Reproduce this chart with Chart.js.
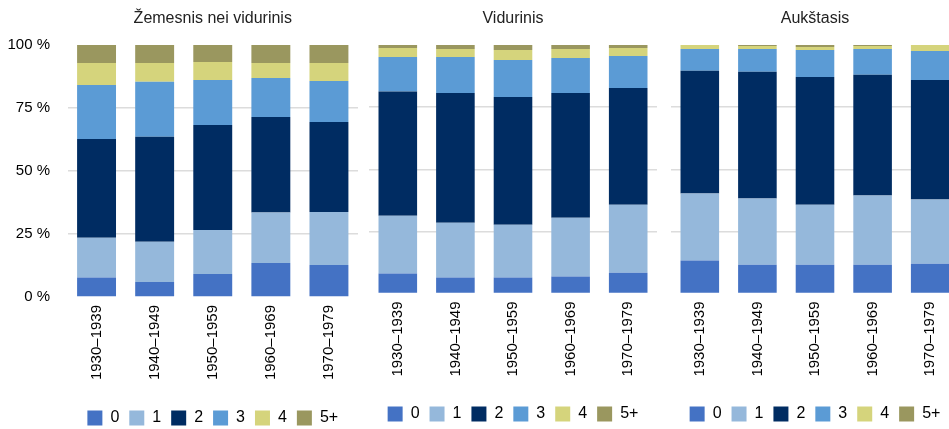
<!DOCTYPE html>
<html>
<head>
<meta charset="utf-8">
<script src="https://cdn.jsdelivr.net/npm/chart.js@4/dist/chart.umd.min.js"></script>
<style>
  html, body { margin: 0; padding: 0; background: #fff; overflow: hidden; width: 949px; height: 429px; }
  canvas { position: absolute; top: 0; }
</style>
</head>
<body>
<canvas id="c1" width="358" height="436" style="left:0px"></canvas>
<canvas id="c2" width="288" height="432" style="left:369px"></canvas>
<canvas id="c3" width="288" height="432" style="left:671px"></canvas>
<script>
// Categories and series labels
const categories = ['1930–1939', '1940–1949', '1950–1959', '1960–1969', '1970–1979'];
const seriesNames = ['0', '1', '2', '3', '4', '5+'];
const panelTitles = ['Žemesnis nei vidurinis', 'Vidurinis', 'Aukštasis'];
const yTickValues = [0, 25, 50, 75, 100];

// Žemesnis nei vidurinis (%)
const low_0  = [7.7, 6.0, 9.1, 13.5, 12.7];
const low_1  = [15.8, 15.9, 17.5, 20.0, 21.0];
const low_2  = [39.2, 41.7, 41.7, 37.9, 35.7];
const low_3  = [21.4, 21.8, 17.8, 15.5, 16.3];
const low_4  = [8.8, 7.5, 7.2, 6.0, 7.2];
const low_5p = [7.1, 7.1, 6.7, 7.1, 7.1];

// Vidurinis (%)
const mid_0  = [8.0, 6.4, 6.4, 6.8, 8.4];
const mid_1  = [23.3, 22.1, 21.3, 23.7, 27.3];
const mid_2  = [50.0, 52.2, 51.4, 50.2, 47.0];
const mid_3  = [13.9, 14.5, 14.9, 14.1, 12.9];
const mid_4  = [3.6, 3.2, 4.0, 3.6, 3.2];
const mid_5p = [1.2, 1.6, 2.0, 1.6, 1.2];

// Aukštasis (%)
const high_0  = [13.3, 11.6, 11.6, 11.6, 12.0];
const high_1  = [26.9, 26.6, 24.1, 27.8, 25.8];
const high_2  = [49.4, 51.0, 51.4, 48.6, 48.1];
const high_3  = [8.8, 9.2, 10.9, 10.4, 11.7];
const high_4  = [1.6, 1.2, 1.2, 1.2, 2.4];
const high_5p = [0.0, 0.4, 0.8, 0.4, 0.0];

const colors = ['#4472C4', '#95B8DB', '#002C62', '#5B9BD5', '#D5D47C', '#9A975F'];
const FONT = "'Liberation Sans', Arial, sans-serif";

function makeChart(id, title, seriesValues, showY, yWidth, xHeight) {
  const datasets = seriesValues.map((vals, i) => ({
    label: seriesNames[i],
    data: vals,
    backgroundColor: colors[i],
    borderWidth: 0,
    barPercentage: 0.67,
    categoryPercentage: 1.0
  }));
  return new Chart(document.getElementById(id), {
    type: 'bar',
    data: { labels: categories, datasets },
    options: {
      responsive: false,
      animation: false,
      devicePixelRatio: 1,
      layout: { padding: 0 },
      plugins: {
        title: {
          display: true,
          text: title,
          fullSize: false,
          color: '#222',
          font: { family: FONT, size: 16, weight: 'normal' },
          padding: { top: 8.5, bottom: 17.3 }
        },
        legend: {
          display: true,
          position: 'bottom',
          fullSize: false,
          labels: {
            boxWidth: 15,
            boxHeight: 15,
            padding: 10,
            color: '#000',
            font: { family: FONT, size: 16 }
          }
        },
        tooltip: { enabled: false }
      },
      scales: {
        x: {
          stacked: true,
          grid: { display: false, drawTicks: false },
          border: { display: false },
          ticks: {
            color: '#000',
            font: { family: FONT, size: 15 },
            maxRotation: 90,
            minRotation: 90,
            padding: 8,
            autoSkip: false
          },
          afterFit: s => { s.height = xHeight; }
        },
        y: {
          stacked: true,
          min: 0,
          max: 100,
          afterBuildTicks: s => { s.ticks = yTickValues.map(v => ({ value: v })); },
          border: { display: false },
          grid: {
            drawTicks: false,
            lineWidth: 1.5,
            color: ctx => (ctx.tick && (ctx.tick.value === 0 || ctx.tick.value === 100)) ? 'rgba(0,0,0,0)' : '#DCDCDC'
          },
          ticks: {
            display: showY,
            color: '#000',
            font: { family: FONT, size: 15 },
            padding: 17.5,
            callback: v => v + ' %'
          },
          afterFit: s => { s.width = yWidth; }
        }
      }
    }
  });
}

makeChart('c1', panelTitles[0], [low_0, low_1, low_2, low_3, low_4, low_5p], true, 67.5, 103);
makeChart('c2', panelTitles[1], [mid_0, mid_1, mid_2, mid_3, mid_4, mid_5p], false, 0, 102.5);
makeChart('c3', panelTitles[2], [high_0, high_1, high_2, high_3, high_4, high_5p], false, 0, 102.5);
</script>
</body>
</html>
